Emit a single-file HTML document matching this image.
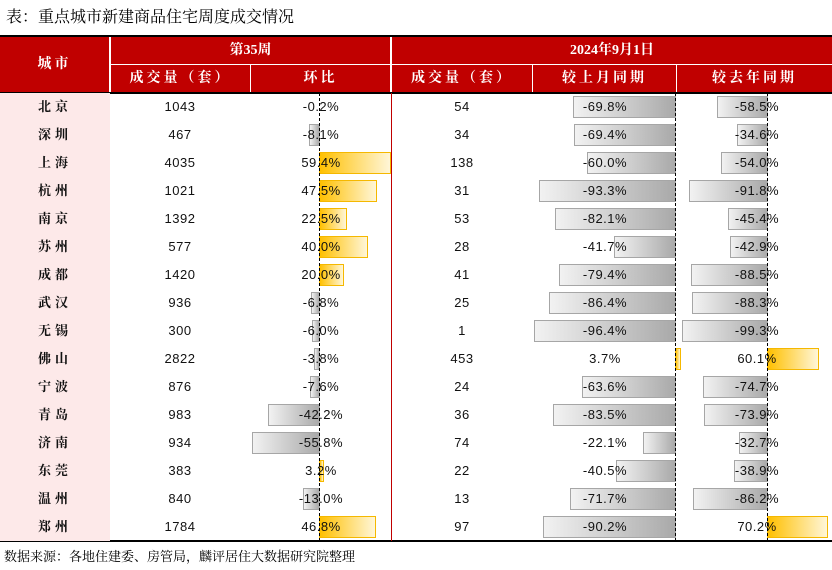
<!DOCTYPE html>
<html><head><meta charset="utf-8"><style>
body{margin:0;width:832px;height:570px;background:#fff;position:relative;overflow:hidden;font-family:"Liberation Sans","Noto Sans CJK SC",sans-serif;}
.a{position:absolute;}
.t{left:6px;top:4px;font-size:16px;font-family:"Liberation Serif","Noto Serif CJK SC",serif;color:#000;}
.h{background:#c00000;color:#fff;font-family:"Liberation Serif","Noto Serif CJK SC",serif;font-weight:bold;font-size:14px;text-align:center;letter-spacing:3px;}
.r{position:absolute;left:0;width:832px;height:28px;font-size:13px;color:#111;letter-spacing:0.5px;}
.r div{position:absolute;top:0;height:28px;line-height:28px;text-align:center;}
.c{left:0;width:110px;background:#fde9e9;font-family:"Liberation Serif","Noto Serif CJK SC",serif;font-weight:bold;letter-spacing:4px;}
.v1{left:110px;width:140px;}
.p1{left:271px;width:100px;z-index:2;}
.v2{left:391px;width:142px;}
.m{left:555px;width:100px;z-index:2;}
.y{left:707px;width:100px;z-index:2;}
.r .bn{top:3px;height:20px;line-height:20px;border:1px solid #a6a6a6;background:linear-gradient(to right,#f2f2f2,#a9a9a9);}
.r .bp{top:3px;height:20px;line-height:20px;border:1px solid #f5b800;background:linear-gradient(to right,#ffc000,#fff6d8);}
.dl{position:absolute;top:93px;height:448px;border-left:1px dashed #000;z-index:3;}
</style></head><body>
<div class="a t">表：重点城市新建商品住宅周度成交情况</div>
<div class="a" style="left:0;top:35px;width:832px;height:2px;background:#000"></div>
<div class="a h" style="left:0;top:37px;width:109px;height:55px;line-height:55px;">城市</div>
<div class="a h" style="left:111px;top:37px;width:279px;height:27px;line-height:27px;letter-spacing:0">第35周</div>
<div class="a h" style="left:392px;top:37px;width:440px;height:27px;line-height:27px;letter-spacing:0">2024年9月1日</div>
<div class="a h" style="left:111px;top:65px;width:139px;height:27px;line-height:27px;">成交量（套）</div>
<div class="a h" style="left:251px;top:65px;width:139px;height:27px;line-height:27px;">环比</div>
<div class="a h" style="left:392px;top:65px;width:140px;height:27px;line-height:27px;">成交量（套）</div>
<div class="a h" style="left:533px;top:65px;width:143px;height:27px;line-height:27px;">较上月同期</div>
<div class="a h" style="left:677px;top:65px;width:155px;height:27px;line-height:27px;">较去年同期</div>
<div class="a" style="left:0;top:92px;width:832px;height:2px;background:#000"></div>
<div class="a" style="left:391px;top:93px;width:1px;height:448px;background:#c00000;z-index:4"></div>
<div class="a" style="left:0;top:540px;width:832px;height:2px;background:#000"></div>
<div class="dl" style="left:319px"></div><div class="dl" style="left:675px"></div><div class="dl" style="left:767px"></div>

<div class="r" style="top:93px"><div class="c">北京</div><div class="v1">1043</div><div class="p1">-0.2%</div><div class="v2">54</div><div class="bn" style="left:573px;width:101px"></div><div class="m">-69.8%</div><div class="bn" style="left:717px;width:49px"></div><div class="y">-58.5%</div></div>
<div class="r" style="top:121px"><div class="c">深圳</div><div class="v1">467</div><div class="bn" style="left:309px;width:9px"></div><div class="p1">-8.1%</div><div class="v2">34</div><div class="bn" style="left:574px;width:100px"></div><div class="m">-69.4%</div><div class="bn" style="left:737px;width:29px"></div><div class="y">-34.6%</div></div>
<div class="r" style="top:149px"><div class="c">上海</div><div class="v1">4035</div><div class="bp" style="left:319px;width:70px"></div><div class="p1">59.4%</div><div class="v2">138</div><div class="bn" style="left:587px;width:87px"></div><div class="m">-60.0%</div><div class="bn" style="left:721px;width:45px"></div><div class="y">-54.0%</div></div>
<div class="r" style="top:177px"><div class="c">杭州</div><div class="v1">1021</div><div class="bp" style="left:319px;width:56px"></div><div class="p1">47.5%</div><div class="v2">31</div><div class="bn" style="left:539px;width:135px"></div><div class="m">-93.3%</div><div class="bn" style="left:689px;width:77px"></div><div class="y">-91.8%</div></div>
<div class="r" style="top:205px"><div class="c">南京</div><div class="v1">1392</div><div class="bp" style="left:319px;width:26px"></div><div class="p1">22.5%</div><div class="v2">53</div><div class="bn" style="left:555px;width:119px"></div><div class="m">-82.1%</div><div class="bn" style="left:728px;width:38px"></div><div class="y">-45.4%</div></div>
<div class="r" style="top:233px"><div class="c">苏州</div><div class="v1">577</div><div class="bp" style="left:319px;width:47px"></div><div class="p1">40.0%</div><div class="v2">28</div><div class="bn" style="left:614px;width:60px"></div><div class="m">-41.7%</div><div class="bn" style="left:730px;width:36px"></div><div class="y">-42.9%</div></div>
<div class="r" style="top:261px"><div class="c">成都</div><div class="v1">1420</div><div class="bp" style="left:319px;width:23px"></div><div class="p1">20.0%</div><div class="v2">41</div><div class="bn" style="left:559px;width:115px"></div><div class="m">-79.4%</div><div class="bn" style="left:691px;width:75px"></div><div class="y">-88.5%</div></div>
<div class="r" style="top:289px"><div class="c">武汉</div><div class="v1">936</div><div class="bn" style="left:311px;width:7px"></div><div class="p1">-6.8%</div><div class="v2">25</div><div class="bn" style="left:549px;width:125px"></div><div class="m">-86.4%</div><div class="bn" style="left:692px;width:74px"></div><div class="y">-88.3%</div></div>
<div class="r" style="top:317px"><div class="c">无锡</div><div class="v1">300</div><div class="bn" style="left:312px;width:6px"></div><div class="p1">-6.0%</div><div class="v2">1</div><div class="bn" style="left:534px;width:140px"></div><div class="m">-96.4%</div><div class="bn" style="left:682px;width:84px"></div><div class="y">-99.3%</div></div>
<div class="r" style="top:345px"><div class="c">佛山</div><div class="v1">2822</div><div class="bn" style="left:314px;width:4px"></div><div class="p1">-3.8%</div><div class="v2">453</div><div class="bp" style="left:675px;width:4px"></div><div class="m">3.7%</div><div class="bp" style="left:767px;width:50px"></div><div class="y">60.1%</div></div>
<div class="r" style="top:373px"><div class="c">宁波</div><div class="v1">876</div><div class="bn" style="left:310px;width:8px"></div><div class="p1">-7.6%</div><div class="v2">24</div><div class="bn" style="left:582px;width:92px"></div><div class="m">-63.6%</div><div class="bn" style="left:703px;width:63px"></div><div class="y">-74.7%</div></div>
<div class="r" style="top:401px"><div class="c">青岛</div><div class="v1">983</div><div class="bn" style="left:268px;width:50px"></div><div class="p1">-42.2%</div><div class="v2">36</div><div class="bn" style="left:553px;width:121px"></div><div class="m">-83.5%</div><div class="bn" style="left:704px;width:62px"></div><div class="y">-73.9%</div></div>
<div class="r" style="top:429px"><div class="c">济南</div><div class="v1">934</div><div class="bn" style="left:252px;width:66px"></div><div class="p1">-55.8%</div><div class="v2">74</div><div class="bn" style="left:643px;width:31px"></div><div class="m">-22.1%</div><div class="bn" style="left:739px;width:27px"></div><div class="y">-32.7%</div></div>
<div class="r" style="top:457px"><div class="c">东莞</div><div class="v1">383</div><div class="bp" style="left:319px;width:3px"></div><div class="p1">3.2%</div><div class="v2">22</div><div class="bn" style="left:616px;width:58px"></div><div class="m">-40.5%</div><div class="bn" style="left:734px;width:32px"></div><div class="y">-38.9%</div></div>
<div class="r" style="top:485px"><div class="c">温州</div><div class="v1">840</div><div class="bn" style="left:303px;width:15px"></div><div class="p1">-13.0%</div><div class="v2">13</div><div class="bn" style="left:570px;width:104px"></div><div class="m">-71.7%</div><div class="bn" style="left:693px;width:73px"></div><div class="y">-86.2%</div></div>
<div class="r" style="top:513px"><div class="c">郑州</div><div class="v1">1784</div><div class="bp" style="left:319px;width:55px"></div><div class="p1">46.8%</div><div class="v2">97</div><div class="bn" style="left:543px;width:131px"></div><div class="m">-90.2%</div><div class="bp" style="left:767px;width:59px"></div><div class="y">70.2%</div></div>

<div class="a" style="left:4px;top:546px;font-size:13px;font-family:'Liberation Serif','Noto Serif CJK SC',serif;">数据来源：各地住建委、房管局，麟评居住大数据研究院整理</div>
</body></html>
